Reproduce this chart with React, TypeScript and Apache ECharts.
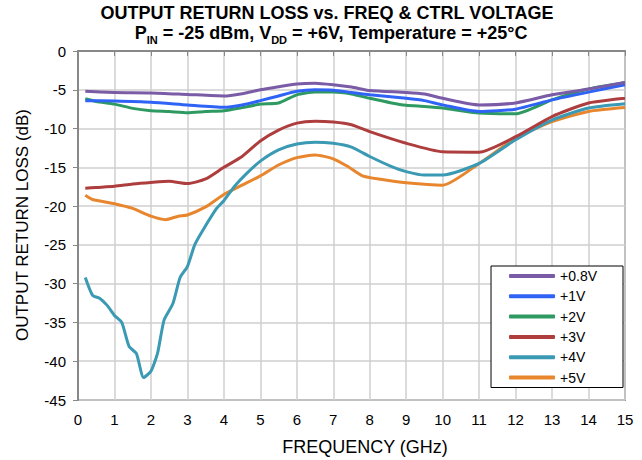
import React, { useEffect, useRef } from "react";
import * as echarts from "echarts";

const seriesNames = ["+0.8V", "+1V", "+2V", "+3V", "+4V", "+5V"];
const seriesColors = ["#7A5BA6", "#2F63F5", "#2E9A62", "#AE3E3E", "#3A99B3", "#E8862E"];

const freq08 = [0.2, 1, 2, 3, 4, 4.5, 5, 5.5, 6, 6.5, 7, 7.5, 8, 9, 9.5, 10, 11, 12, 13, 14, 15];
const val08 = [-5.2, -5.35, -5.4, -5.6, -5.8, -5.5, -5.0, -4.6, -4.25, -4.15, -4.35, -4.65, -5.1, -5.35, -5.55, -6.1, -6.95, -6.7, -5.65, -4.9, -4.05];

const freq1 = [0.2, 1, 2, 3, 4, 4.5, 5, 5.5, 6, 6.5, 7, 7.5, 8, 9, 9.5, 10, 11, 12, 13, 14, 15];
const val1 = [-6.4, -6.45, -6.6, -6.95, -7.25, -6.95, -6.4, -5.8, -5.2, -5.0, -5.05, -5.35, -5.65, -6.1, -6.4, -6.95, -7.8, -7.5, -6.3, -5.3, -4.35];

const freq2 = [0.2, 0.5, 1, 1.5, 2, 2.5, 3, 3.5, 4, 4.5, 5, 5.5, 6, 6.5, 7, 7.5, 8, 8.6, 9, 9.5, 10, 11, 12, 13, 14, 15];
const val2 = [-6.15, -6.5, -6.85, -7.4, -7.7, -7.8, -7.95, -7.8, -7.7, -7.3, -6.85, -6.7, -5.65, -5.3, -5.3, -5.55, -6.1, -6.7, -7.0, -7.15, -7.35, -8.0, -8.1, -6.3, -4.9, -4.05];

const freq3 = [0.2, 0.5, 1, 1.5, 2, 2.5, 3, 3.5, 4, 4.5, 5, 5.5, 6, 6.5, 7, 7.5, 8, 9, 10, 11, 12, 13, 14, 15];
const val3 = [-17.7, -17.6, -17.45, -17.15, -16.95, -16.8, -17.1, -16.5, -15.0, -13.6, -11.6, -10.2, -9.3, -9.05, -9.15, -9.5, -10.4, -11.9, -13.0, -13.05, -11.05, -8.45, -6.7, -6.1];

const freq4 = [0.2, 0.4, 0.6, 0.8, 1.0, 1.2, 1.4, 1.6, 1.8, 2.0, 2.18, 2.36, 2.6, 2.8, 3.0, 3.2, 3.4, 3.8, 4.0, 4.3, 4.6, 5.0, 5.5, 6, 6.5, 7, 7.5, 8, 8.6, 9, 9.5, 10, 11, 12, 13, 14, 15];
const val4 = [-29.2, -31.5, -31.9, -32.8, -34.1, -35.0, -38.1, -39.0, -42.1, -41.3, -39.0, -34.7, -32.6, -29.2, -27.8, -25.0, -23.3, -20.3, -19.3, -17.4, -15.9, -14.2, -12.75, -12.0, -11.75, -11.9, -12.4, -13.6, -14.9, -15.55, -16.0, -16.0, -14.5, -11.45, -8.9, -7.35, -6.8];

const freq5 = [0.2, 0.4, 1, 1.5, 2, 2.4, 2.75, 3, 3.5, 4, 4.5, 5, 5.5, 6, 6.5, 7, 7.4, 7.8, 8.3, 9, 10, 11, 12, 13, 14, 15];
const val5 = [-18.6, -19.15, -19.7, -20.3, -21.3, -21.75, -21.3, -21.15, -20.1, -18.5, -17.3, -16.1, -14.7, -13.75, -13.4, -13.9, -14.9, -16.1, -16.55, -17.0, -17.3, -14.5, -11.25, -9.1, -7.8, -7.3];

const freqs = [freq08, freq1, freq2, freq3, freq4, freq5];
const vals = [val08, val1, val2, val3, val4, val5];

const xTicks = { min: 0, max: 15, interval: 1 };
const yTicks = { min: -45, max: 0, interval: 5 };

const FONT = "Liberation Sans, Arial, sans-serif";

export default function App() {
  const ref = useRef<HTMLDivElement>(null);
  useEffect(() => {
    if (!ref.current) return;
    const chart = echarts.init(ref.current, undefined, { renderer: "svg" });
    const series = seriesNames.map((name, i) => ({
      name,
      type: "line",
      symbol: "none",
      smooth: 0.2,
      data: freqs[i].map((f, j) => [f, vals[i][j]]),
      lineStyle: { color: seriesColors[i], width: 3 },
      itemStyle: { color: seriesColors[i] },
      z: 10 - i,
    }));
    chart.setOption({
      animation: false,
      backgroundColor: "#fff",
      textStyle: { fontFamily: FONT },
      grid: {
        left: 78,
        right: 17,
        top: 51,
        bottom: 60,
        show: true,
        borderColor: "#999",
        borderWidth: 2,
      },
      graphic: [
        {
          type: "text",
          x: 327,
          y: 13,
          style: {
            text: "OUTPUT RETURN LOSS vs. FREQ & CTRL VOLTAGE",
            font: `bold 18px ${FONT}`,
            fill: "#000",
            align: "center",
            verticalAlign: "middle",
          },
        },
        {
          type: "text",
          x: 331,
          y: 33,
          style: {
            text: "{b|P}{s|IN}{b| = -25 dBm, V}{s|DD}{b| = +6V, Temperature = +25°C}",
            align: "center",
            verticalAlign: "middle",
            rich: {
              b: { font: `bold 18px ${FONT}`, fill: "#000", color: "#000", verticalAlign: "bottom" },
              s: { font: `bold 11px ${FONT}`, fill: "#000", color: "#000", verticalAlign: "bottom", padding: [0, 0, -3, 0] },
            },
          },
        },
        {
          type: "text",
          x: 365,
          y: 447,
          style: {
            text: "FREQUENCY (GHz)",
            font: `18px ${FONT}`,
            fill: "#000",
            align: "center",
            verticalAlign: "middle",
          },
        },
        {
          type: "text",
          x: 22,
          y: 225,
          rotation: Math.PI / 2,
          style: {
            text: "OUTPUT RETURN LOSS (dB)",
            font: `17px ${FONT}`,
            fill: "#000",
            align: "center",
            verticalAlign: "middle",
          },
        },
      ],
      legend: {
        orient: "vertical",
        right: 19,
        top: 266,
        data: seriesNames,
        icon: "roundRect",
        backgroundColor: "#fff",
        borderColor: "#000",
        borderWidth: 1,
        borderRadius: 0,
        padding: [3, 26, 3, 18],
        itemWidth: 46,
        itemHeight: 4,
        itemGap: 6.3,
        itemTextGap: 4,
        textStyle: { fontFamily: FONT, fontSize: 14, color: "#000", lineHeight: 12 },
      },
      xAxis: {
        type: "value",
        ...xTicks,
        axisLine: { show: true, lineStyle: { color: "#888", width: 2 } },
        axisTick: { show: true, inside: false, length: 5, lineStyle: { color: "#888" } },
        axisLabel: { fontFamily: FONT, fontSize: 15, color: "#000", margin: 12 },
        splitLine: { show: true, lineStyle: { color: "#cfcfcf", width: 1.5 } },
      },
      yAxis: {
        type: "value",
        ...yTicks,
        axisLine: { show: true, lineStyle: { color: "#888", width: 2 } },
        axisTick: { show: true, inside: false, length: 5, lineStyle: { color: "#888" } },
        axisLabel: { fontFamily: FONT, fontSize: 15, color: "#000", margin: 12 },
        splitLine: { show: true, lineStyle: { color: "#cfcfcf", width: 1.5 } },
      },
      series,
    });
    return () => chart.dispose();
  }, []);
  return <div ref={ref} style={{ width: 642, height: 460, position: "absolute", left: 0, top: 0 }} />;
}
